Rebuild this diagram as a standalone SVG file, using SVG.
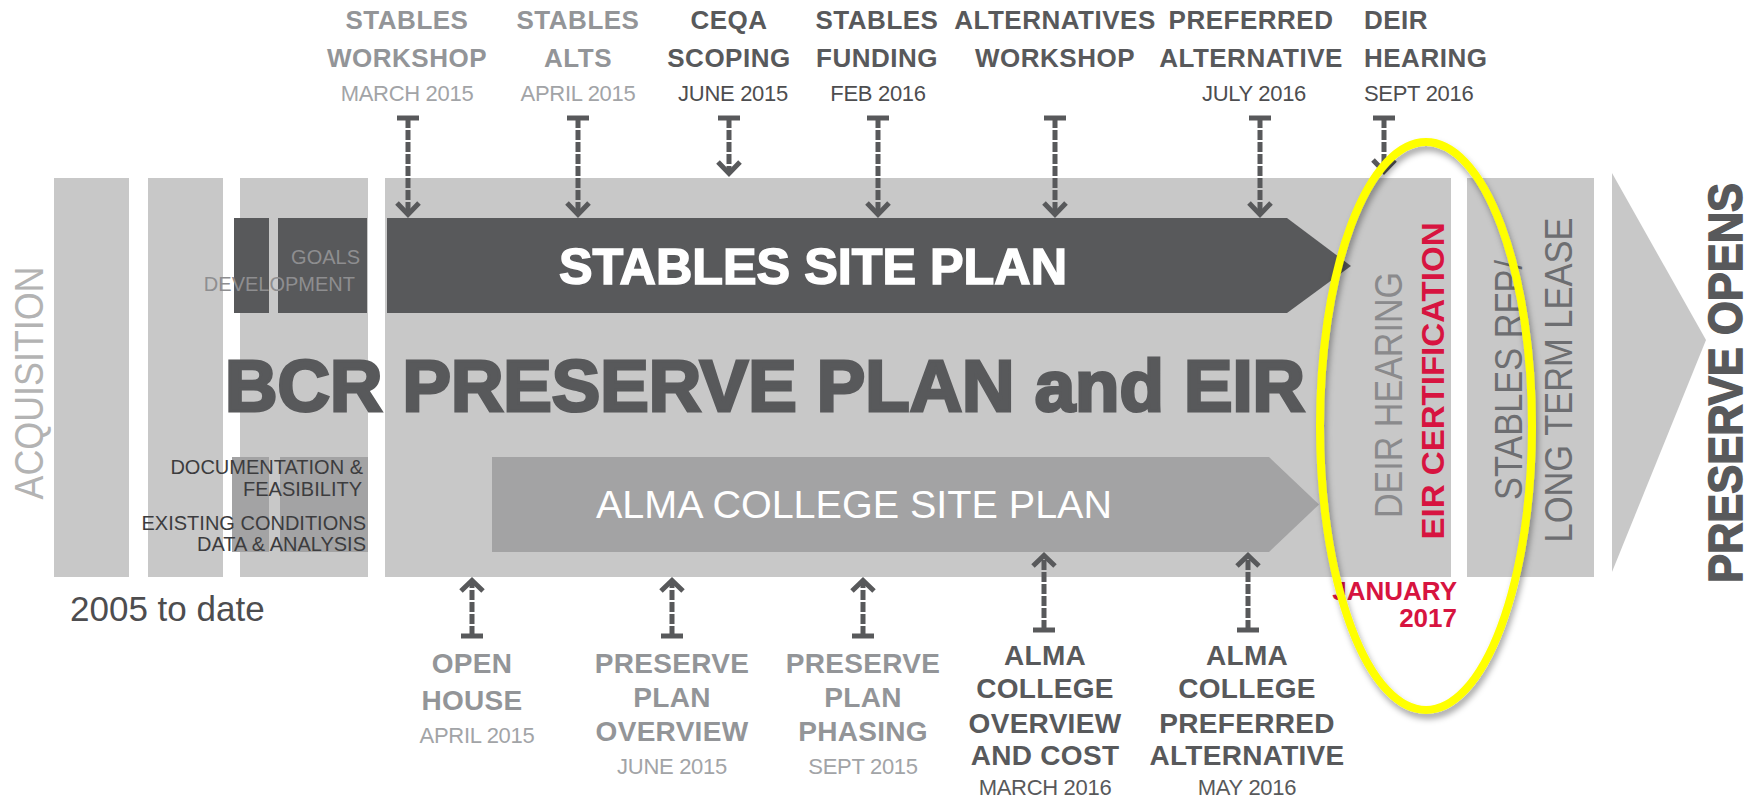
<svg xmlns="http://www.w3.org/2000/svg" width="1752" height="800" viewBox="0 0 1752 800">
<defs>
<style>
.col{fill:#c8c8c8}
.dk{fill:#58595b}
.md{fill:#a3a3a4}
.t{font-family:"Liberation Sans",Arial,sans-serif}
.h{font-family:"Liberation Sans",Arial,sans-serif;font-weight:bold;font-size:26px;text-anchor:middle;letter-spacing:0.5px}
.h2{font-family:"Liberation Sans",Arial,sans-serif;font-weight:bold;font-size:28px;text-anchor:middle;letter-spacing:0.3px}
.d{font-family:"Liberation Sans",Arial,sans-serif;font-size:22px;text-anchor:middle;letter-spacing:-0.3px}
.st{text-anchor:start}
.lt{fill:#939598}
.ltd{fill:#a2a4a7}
.dt{fill:#58595b}
.dtd{fill:#4d4d4f}
.red{fill:#d71440}
.stem{stroke:#58595b;stroke-width:5;stroke-dasharray:10 2;fill:none}
.tbar{stroke:#58595b;stroke-width:5}
.head{stroke:#58595b;stroke-width:5;fill:none;stroke-linejoin:miter}
</style>
<filter id="sh" x="-20%" y="-10%" width="140%" height="130%">
<feDropShadow dx="2" dy="5" stdDeviation="3" flood-color="#000" flood-opacity="0.35"/>
</filter>
</defs>

<g id="background">
<rect class="col" x="54" y="178" width="75" height="399"/>
<rect class="col" x="148" y="178" width="75" height="399"/>
<rect class="col" x="240" y="178" width="128" height="399"/>
<rect class="col" x="385" y="178" width="1066" height="399"/>
<rect class="col" x="1467" y="178" width="127" height="399"/>
<polygon class="col" points="1612,173 1706,340 1612,572"/>
</g>

<g id="acquisition">
<text class="t" transform="translate(43,383) rotate(-90)" text-anchor="middle" font-size="41" fill="#b3b3b3" textLength="233" lengthAdjust="spacingAndGlyphs">ACQUISITION</text>
<text class="t" x="70" y="621" font-size="35" fill="#4d4d4f">2005 to date</text>
</g>

<g id="goals">
<rect class="dk" x="234" y="218" width="35" height="95"/>
<rect class="dk" x="278" y="218" width="89" height="95"/>
<text class="t" x="360" y="264" font-size="20" fill="#8e8e90" text-anchor="end">GOALS</text>
<text class="t" x="355" y="291" font-size="20" fill="#8e8e90" text-anchor="end">DEVELOPMENT</text>
</g>

<g id="documentation">
<rect class="md" x="232" y="457" width="37" height="95"/>
<rect class="md" x="280" y="457" width="88" height="95"/>
<text class="t" x="363" y="474" font-size="20" fill="#3c3c3e" text-anchor="end">DOCUMENTATION &amp;</text>
<text class="t" x="362" y="496" font-size="20" fill="#3c3c3e" text-anchor="end">FEASIBILITY</text>
<text class="t" x="366" y="530" font-size="20" fill="#3c3c3e" text-anchor="end">EXISTING CONDITIONS</text>
<text class="t" x="366" y="551" font-size="20" fill="#3c3c3e" text-anchor="end">DATA &amp; ANALYSIS</text>
</g>

<g id="bcr-title">
<text class="t" x="225" y="411" font-size="72" font-weight="bold" fill="#58595b" stroke="#58595b" stroke-width="3" textLength="1080" lengthAdjust="spacingAndGlyphs">BCR PRESERVE PLAN and EIR</text>
</g>

<g id="stables-site-plan">
<polygon class="dk" points="387,218 1287,218 1351,266 1287,313 387,313"/>
<text class="t" x="813" y="284" font-size="50" font-weight="bold" fill="#ffffff" stroke="#ffffff" stroke-width="1.5" text-anchor="middle" textLength="508" lengthAdjust="spacingAndGlyphs">STABLES SITE PLAN</text>
</g>

<g id="alma-site-plan">
<polygon class="md" points="492,457 1269,457 1319,504.5 1269,552 492,552"/>
<text class="t" x="854" y="518" font-size="38" fill="#ffffff" text-anchor="middle" textLength="516" lengthAdjust="spacingAndGlyphs">ALMA COLLEGE SITE PLAN</text>
</g>

<g id="deir-column">
<text class="t" transform="translate(1402,395) rotate(-90)" text-anchor="middle" font-size="39" fill="#8a8a8c" textLength="246" lengthAdjust="spacingAndGlyphs">DEIR HEARING</text>
<text class="t" transform="translate(1444,381) rotate(-90)" text-anchor="middle" font-size="32" font-weight="bold" fill="#d71440" textLength="317" lengthAdjust="spacingAndGlyphs">EIR CERTIFICATION</text>
<text class="t red" x="1457" y="600" font-size="26" font-weight="bold" text-anchor="end">JANUARY</text>
<text class="t red" x="1457" y="627" font-size="26" font-weight="bold" text-anchor="end">2017</text>
</g>

<g id="stables-rfp">
<text class="t" transform="translate(1522,380) rotate(-90)" text-anchor="middle" font-size="39" fill="#6d6e71" textLength="240" lengthAdjust="spacingAndGlyphs">STABLES RFP/</text>
<text class="t" transform="translate(1572,380) rotate(-90)" text-anchor="middle" font-size="39" fill="#6d6e71" textLength="325" lengthAdjust="spacingAndGlyphs">LONG TERM LEASE</text>
</g>

<g id="preserve-opens">
<text class="t" transform="translate(1742,383) rotate(-90)" text-anchor="middle" font-size="48" font-weight="bold" fill="#58595b" stroke="#58595b" stroke-width="1.5" textLength="400" lengthAdjust="spacingAndGlyphs">PRESERVE OPENS</text>
</g>

<g id="connectors">
<line class="tbar" x1="397" y1="118" x2="419" y2="118"/><line class="stem" x1="408" y1="118" x2="408" y2="212"/><polyline class="head" points="397,203 408,214.5 419,203"/>
<line class="tbar" x1="567" y1="118" x2="589" y2="118"/><line class="stem" x1="578" y1="118" x2="578" y2="212"/><polyline class="head" points="567,203 578,214.5 589,203"/>
<line class="tbar" x1="718" y1="118" x2="740" y2="118"/><line class="stem" x1="729" y1="118" x2="729" y2="171"/><polyline class="head" points="718,162 729,173.5 740,162"/>
<line class="tbar" x1="867" y1="118" x2="889" y2="118"/><line class="stem" x1="878" y1="118" x2="878" y2="212"/><polyline class="head" points="867,203 878,214.5 889,203"/>
<line class="tbar" x1="1044" y1="118" x2="1066" y2="118"/><line class="stem" x1="1055" y1="118" x2="1055" y2="212"/><polyline class="head" points="1044,203 1055,214.5 1066,203"/>
<line class="tbar" x1="1249" y1="118" x2="1271" y2="118"/><line class="stem" x1="1260" y1="118" x2="1260" y2="212"/><polyline class="head" points="1249,203 1260,214.5 1271,203"/>
<line class="tbar" x1="1373" y1="118" x2="1395" y2="118"/><line class="stem" x1="1384" y1="118" x2="1384" y2="168"/><polyline class="head" points="1373,160 1384,171.5 1395,160"/>
<line class="tbar" x1="461" y1="636" x2="483" y2="636"/><line class="stem" x1="472" y1="636" x2="472" y2="583"/><polyline class="head" points="461,591 472,580.5 483,591"/>
<line class="tbar" x1="661" y1="636" x2="683" y2="636"/><line class="stem" x1="672" y1="636" x2="672" y2="583"/><polyline class="head" points="661,591 672,580.5 683,591"/>
<line class="tbar" x1="852" y1="636" x2="874" y2="636"/><line class="stem" x1="863" y1="636" x2="863" y2="583"/><polyline class="head" points="852,591 863,580.5 874,591"/>
<line class="tbar" x1="1033" y1="630" x2="1055" y2="630"/><line class="stem" x1="1044" y1="630" x2="1044" y2="558"/><polyline class="head" points="1033,566 1044,555.5 1055,566"/>
<line class="tbar" x1="1237" y1="630" x2="1259" y2="630"/><line class="stem" x1="1248" y1="630" x2="1248" y2="558"/><polyline class="head" points="1237,566 1248,555.5 1259,566"/>
</g>

<g id="highlight">
<ellipse cx="1426" cy="426" rx="106" ry="284" fill="none" stroke="#ffff00" stroke-width="8" filter="url(#sh)"/>
</g>

<g id="top-stables-workshop">
<text class="h lt" x="407" y="29">STABLES</text>
<text class="h lt" x="407" y="67">WORKSHOP</text>
<text class="d ltd" x="407" y="101">MARCH 2015</text>
</g>
<g id="top-stables-alts">
<text class="h lt" x="578" y="29">STABLES</text>
<text class="h lt" x="578" y="67">ALTS</text>
<text class="d ltd" x="578" y="101">APRIL 2015</text>
</g>
<g id="top-ceqa">
<text class="h dt" x="729" y="29">CEQA</text>
<text class="h dt" x="729" y="67">SCOPING</text>
<text class="d dtd" x="733" y="101">JUNE 2015</text>
</g>
<g id="top-funding">
<text class="h dt" x="877" y="29">STABLES</text>
<text class="h dt" x="877" y="67">FUNDING</text>
<text class="d dtd" x="878" y="101">FEB 2016</text>
</g>
<g id="top-alternatives">
<text class="h dt" x="1055" y="29">ALTERNATIVES</text>
<text class="h dt" x="1055" y="67">WORKSHOP</text>
</g>
<g id="top-preferred">
<text class="h dt" x="1251" y="29">PREFERRED</text>
<text class="h dt" x="1251" y="67">ALTERNATIVE</text>
<text class="d dtd" x="1254" y="101">JULY 2016</text>
</g>
<g id="top-deir">
<text class="h dt st" x="1364" y="29">DEIR</text>
<text class="h dt st" x="1364" y="67">HEARING</text>
<text class="d dtd st" x="1364" y="101">SEPT 2016</text>
</g>

<g id="bottom-open-house">
<text class="h2 lt" x="472" y="673">OPEN</text>
<text class="h2 lt" x="472" y="710">HOUSE</text>
<text class="d ltd" x="477" y="743">APRIL 2015</text>
</g>
<g id="bottom-plan-overview">
<text class="h2 lt" x="672" y="673">PRESERVE</text>
<text class="h2 lt" x="672" y="707">PLAN</text>
<text class="h2 lt" x="672" y="741">OVERVIEW</text>
<text class="d ltd" x="672" y="774">JUNE 2015</text>
</g>
<g id="bottom-plan-phasing">
<text class="h2 lt" x="863" y="673">PRESERVE</text>
<text class="h2 lt" x="863" y="707">PLAN</text>
<text class="h2 lt" x="863" y="741">PHASING</text>
<text class="d ltd" x="863" y="774">SEPT 2015</text>
</g>
<g id="bottom-alma-overview">
<text class="h2 dt" x="1045" y="665">ALMA</text>
<text class="h2 dt" x="1045" y="698">COLLEGE</text>
<text class="h2 dt" x="1045" y="733">OVERVIEW</text>
<text class="h2 dt" x="1045" y="765">AND COST</text>
<text class="d dt" x="1045" y="795">MARCH 2016</text>
</g>
<g id="bottom-alma-preferred">
<text class="h2 dt" x="1247" y="665">ALMA</text>
<text class="h2 dt" x="1247" y="698">COLLEGE</text>
<text class="h2 dt" x="1247" y="733">PREFERRED</text>
<text class="h2 dt" x="1247" y="765">ALTERNATIVE</text>
<text class="d dt" x="1247" y="795">MAY 2016</text>
</g>
</svg>
